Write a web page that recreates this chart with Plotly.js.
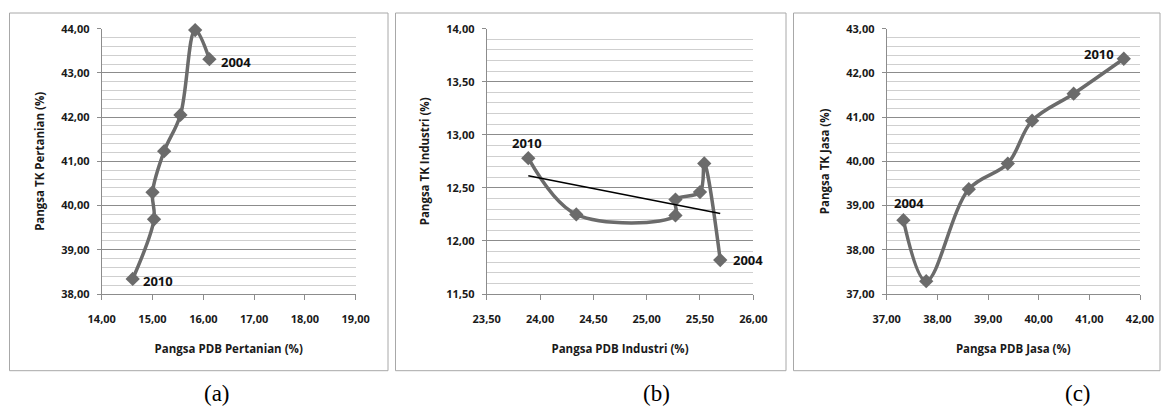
<!DOCTYPE html>
<html>
<head>
<meta charset="utf-8">
<script src="https://cdn.plot.ly/plotly-3.0.1.min.js"></script>
<style>
html,body{margin:0;padding:0;background:#fff;}
#chart{width:1161px;height:407px;}
</style>
</head>
<body>
<div id="chart"></div>
<script>
// ---- Data (years 2004 -> 2010) ----
const years = [2004, 2005, 2006, 2007, 2008, 2009, 2010];

// (a) Pertanian
const pdbPertanian = [16.12, 15.84, 15.55, 15.23, 15.00, 15.03, 14.61];
const tkPertanian  = [43.31, 43.97, 42.05, 41.23, 40.30, 39.69, 38.34];

// (b) Industri
const pdbIndustri = [25.69, 25.54, 25.50, 25.27, 25.27, 24.34, 23.89];
const tkIndustri  = [11.82, 12.73, 12.46, 12.39, 12.24, 12.25, 12.78];

// (c) Jasa
const pdbJasa = [37.33, 37.78, 38.62, 39.39, 39.87, 40.69, 41.68];
const tkJasa  = [38.67, 37.29, 39.37, 39.95, 40.92, 41.53, 42.32];

// axis titles and panel labels
const xTitles = ["Pangsa PDB Pertanian (%)", "Pangsa PDB Industri (%)", "Pangsa PDB Jasa (%)"];
const yTitles = ["Pangsa TK Pertanian (%)", "Pangsa TK Industri (%)", "Pangsa TK Jasa (%)"];
const panelLabels = ["(a)", "(b)", "(c)"];

// linear trend for industri (least squares, like the Excel trendline)
function linfit(xs, ys) {
  const n = xs.length;
  const mx = xs.reduce((a, b) => a + b, 0) / n;
  const my = ys.reduce((a, b) => a + b, 0) / n;
  let sxy = 0, sxx = 0;
  for (let i = 0; i < n; i++) { sxy += (xs[i] - mx) * (ys[i] - my); sxx += (xs[i] - mx) ** 2; }
  const b = sxy / sxx, a = my - b * mx;
  const x0 = Math.min(...xs), x1 = Math.max(...xs);
  return { x: [x0, x1], y: [a + b * x0, a + b * x1] };
}
const trendInd = linfit(pdbIndustri, tkIndustri);

// ---- Layout geometry ----
const W = 1161, H = 407;
const FONT = "'Open Sans', Lato, sans-serif";
const lineColor = "#6b6b6b";

function px(x) { return x / W; }
function py(y) { return 1 - y / H; }

const plotTop = 28.7, plotBottom = 294;
const xDomains = [[101.7, 355.7], [486.7, 753.3], [886.7, 1140]];
const xRanges = [[14, 19], [23.5, 26], [37, 42]];
const yRanges = [[38, 44], [11.5, 14], [37, 43]];
const xDt = [1, 0.5, 1];
const yDt = [1, 0.5, 1];
const yMinor = [0.2, 0.1, 0.2];

const layout = {
  width: W, height: H,
  margin: { l: 0, r: 0, t: 0, b: 0 },
  paper_bgcolor: "#fff", plot_bgcolor: "#fff",
  separators: ", ",
  showlegend: false,
  font: { family: FONT, size: 11, color: "#1a1a1a" },
  shapes: [], annotations: []
};

const tickFont = { family: FONT, size: 11, weight: 700, color: "#1a1a1a" };
const titleFont = { family: FONT, size: 11.5, weight: 700, color: "#1a1a1a" };

for (let i = 0; i < 3; i++) {
  const sx = i === 0 ? "" : String(i + 1);
  layout["xaxis" + sx] = {
    domain: [px(xDomains[i][0]), px(xDomains[i][1])],
    range: xRanges[i], anchor: "y" + sx,
    tick0: xRanges[i][0], dtick: xDt[i], tickformat: ".2f",
    showgrid: false, zeroline: false,
    showline: true, linecolor: "#8c8c8c", linewidth: 1,
    ticks: "outside", ticklen: 5, tickcolor: "#8c8c8c",
    ticklabelstandoff: 10,
    tickfont: tickFont,
    title: { text: xTitles[i], standoff: 19, font: titleFont },
    automargin: false, fixedrange: true
  };
  layout["yaxis" + sx] = {
    domain: [py(plotBottom), py(plotTop)],
    range: yRanges[i], anchor: "x" + sx,
    tick0: yRanges[i][0], dtick: yDt[i], tickformat: ".2f",
    showgrid: true, gridcolor: "#8c8c8c", gridwidth: 1,
    minor: { dtick: yMinor[i], tick0: yRanges[i][0], showgrid: true, gridcolor: "#cfcfcf", gridwidth: 1, ticks: "" },
    zeroline: false,
    showline: true, linecolor: "#8c8c8c", linewidth: 1,
    ticks: "outside", ticklen: 4, tickcolor: "#8c8c8c",
    ticklabelstandoff: 5,
    tickfont: tickFont,
    title: { text: yTitles[i], standoff: 14, font: titleFont },
    automargin: false, fixedrange: true
  };
}

// panel frames
const frames = [[9.5, 388], [395.5, 786], [793.5, 1160]];
frames.forEach(f => {
  layout.shapes.push({
    type: "rect", xref: "paper", yref: "paper",
    x0: px(f[0]), x1: px(f[1]), y0: py(370.7), y1: py(13),
    line: { color: "#a8a8a8", width: 1 }, fillcolor: "rgba(0,0,0,0)", layer: "below"
  });
});

// panel labels (a) (b) (c)
const labelX = [216.7, 656.7, 1078];
panelLabels.forEach((t, i) => {
  layout.annotations.push({
    text: t, xref: "paper", yref: "paper", x: px(labelX[i]), y: py(393),
    xanchor: "center", yanchor: "middle", showarrow: false,
    font: { family: "'Liberation Serif', 'Times New Roman', serif", size: 23, color: "#000" }
  });
});

// year labels at first / last point
const yl = { family: FONT, size: 13, weight: 700, color: "#111" };
function yearLabel(xr, yr, x, y, text, xanchor, xshift, yshift) {
  layout.annotations.push({ xref: xr, yref: yr, x: x, y: y, text: text, showarrow: false,
    xanchor: xanchor, yanchor: "middle", xshift: xshift, yshift: yshift, font: yl });
}
const last = years.length - 1;
yearLabel("x", "y", pdbPertanian[0], tkPertanian[0], String(years[0]), "left", 10, -3);
yearLabel("x", "y", pdbPertanian[last], tkPertanian[last], String(years[last]), "left", 8, -2);
yearLabel("x2", "y2", pdbIndustri[0], tkIndustri[0], String(years[0]), "left", 11, 0);
yearLabel("x2", "y2", pdbIndustri[last], tkIndustri[last], String(years[last]), "center", -1, 15);
yearLabel("x3", "y3", pdbJasa[0], tkJasa[0], String(years[0]), "center", 6, 17);
yearLabel("x3", "y3", pdbJasa[last], tkJasa[last], String(years[last]), "right", -8, 5);

function series(x, y, xa, ya) {
  return {
    x: x, y: y, xaxis: xa, yaxis: ya, type: "scatter", mode: "lines+markers",
    line: { color: lineColor, width: 3.5, shape: "spline", smoothing: 1 },
    marker: { symbol: "diamond", size: 11, color: lineColor },
    cliponaxis: false, hoverinfo: "x+y"
  };
}

const data = [
  series(pdbPertanian, tkPertanian, "x", "y"),
  series(pdbIndustri, tkIndustri, "x2", "y2"),
  {
    x: trendInd.x, y: trendInd.y, xaxis: "x2", yaxis: "y2", type: "scatter", mode: "lines",
    line: { color: "#000", width: 1.5 }, hoverinfo: "skip"
  },
  series(pdbJasa, tkJasa, "x3", "y3")
];

Plotly.newPlot("chart", data, layout, { displayModeBar: false, staticPlot: true });
</script>
</body>
</html>
